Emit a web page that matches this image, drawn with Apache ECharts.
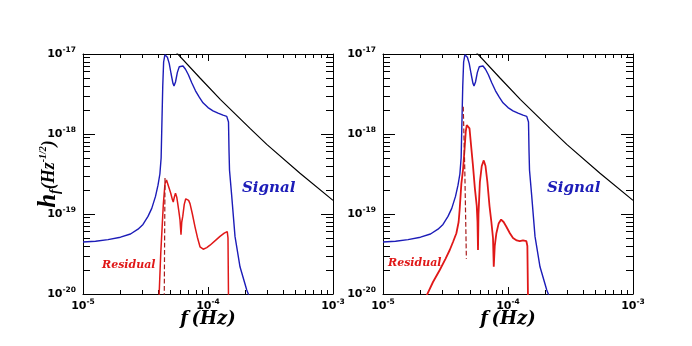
<!DOCTYPE html>
<html>
<head>
<meta charset="utf-8">
<script src="https://cdn.jsdelivr.net/npm/echarts@6/dist/echarts.min.js"></script>
<style>html,body{margin:0;padding:0;background:#fff}#echarts{width:692px;height:346px}</style>
</head>
<body>
<div id="echarts"></div>
<script>
// values, kept as log10(f / Hz) and log10(h)
var noiseLogF = [-4.26, -4.064, -3.90, -3.664, -3.53, -3.264, -3.0];
var noiseLogH = [-16.97, -17.30, -17.57, -17.93, -18.13, -18.49, -18.83];

var signalLogF = [-5.0, -4.9, -4.8, -4.7, -4.62, -4.56, -4.52, -4.48, -4.45, -4.42, -4.40, -4.385, -4.375, -4.37, -4.362, -4.355,
    -4.345, -4.335, -4.325, -4.31, -4.295, -4.28, -4.272, -4.26, -4.245, -4.23, -4.215, -4.2, -4.18, -4.157, -4.13, -4.1,
    -4.07, -4.04, -4.0, -3.96, -3.92, -3.88, -3.85, -3.84, -3.836, -3.832, -3.828, -3.81, -3.784, -3.744, -3.69, -3.665];
var signalLogH = [-19.35, -19.34, -19.32, -19.29, -19.25, -19.19, -19.13, -19.03, -18.93, -18.78, -18.64, -18.5, -18.3, -17.95, -17.4, -17.1,
    -17.01, -17.0, -17.04, -17.12, -17.25, -17.37, -17.4, -17.35, -17.23, -17.16, -17.14, -17.15, -17.19, -17.26, -17.36, -17.46,
    -17.54, -17.61, -17.67, -17.71, -17.74, -17.765, -17.78, -17.77, -17.85, -18.2, -18.45, -18.78, -19.28, -19.66, -19.95, -20.05];

// left panel residual
var resALogF = [-4.392, -4.378, -4.357, -4.344, -4.332, -4.32, -4.298, -4.285, -4.278, -4.268, -4.26, -4.25, -4.242, -4.232, -4.224, -4.216,
    -4.21, -4.202, -4.19, -4.178, -4.17, -4.155, -4.144, -4.125, -4.104, -4.085, -4.064, -4.038, -4.01, -3.984, -3.94, -3.904,
    -3.87, -3.846, -3.84, -3.836];
var resALogH = [-20.05, -19.49, -18.87, -18.62, -18.575, -18.6, -18.74, -18.82, -18.85, -18.78, -18.74, -18.79, -18.87, -18.98, -19.075, -19.26,
    -19.1, -19.03, -18.88, -18.81, -18.80, -18.83, -18.87, -19.0, -19.16, -19.29, -19.41, -19.44, -19.42, -19.39, -19.33, -19.28,
    -19.24, -19.22, -19.3, -20.05];
var dashALogF = [-4.35, -4.344];
var dashALogH = [-20.05, -18.55];

// right panel residual
var resBLogF = [-4.66, -4.6, -4.546, -4.5, -4.466, -4.44, -4.413, -4.395, -4.387, -4.373, -4.36, -4.348, -4.338, -4.33, -4.32, -4.308,
    -4.295, -4.28, -4.265, -4.25, -4.244, -4.24, -4.236, -4.225, -4.21, -4.194, -4.18, -4.165, -4.148, -4.133, -4.12, -4.114,
    -4.106, -4.093, -4.075, -4.055, -4.035, -4.013, -3.985, -3.96, -3.93, -3.906, -3.88, -3.853, -3.845, -3.84];
var resBLogH = [-20.05, -19.85, -19.7, -19.56, -19.45, -19.35, -19.24, -19.1, -18.95, -18.62, -18.45, -18.2, -17.97, -17.89, -17.87, -17.93,
    -18.15, -18.4, -18.68, -18.9, -19.1, -19.45, -19.0, -18.6, -18.4, -18.33, -18.4, -18.6, -18.9, -19.1, -19.3, -19.66,
    -19.4, -19.24, -19.12, -19.07, -19.1, -19.16, -19.24, -19.3, -19.33, -19.34, -19.33, -19.34, -19.4, -20.05];
var dashBLogF = [-4.358, -4.345, -4.333];
var dashBLogH = [-17.66, -18.5, -19.56];

var xMinorTicks = [2e-5, 3e-5, 4e-5, 5e-5, 6e-5, 7e-5, 8e-5, 9e-5, 2e-4, 3e-4, 4e-4, 5e-4, 6e-4, 7e-4, 8e-4, 9e-4];
var yMinorTicks = [2e-20, 3e-20, 4e-20, 5e-20, 6e-20, 7e-20, 8e-20, 9e-20, 2e-19, 3e-19, 4e-19, 5e-19, 6e-19, 7e-19, 8e-19, 9e-19,
    2e-18, 3e-18, 4e-18, 5e-18, 6e-18, 7e-18, 8e-18, 9e-18];

function pairs(lf, lh) {
    return lf.map(function (v, i) {
        return [Math.pow(10, v), Math.pow(10, lh[i])];
    });
}

var labelRich = {
    b: {fontFamily: 'DejaVu Sans', fontWeight: 'bold', fontSize: 11, color: '#000'},
    s: {fontFamily: 'DejaVu Sans', fontWeight: 'bold', fontSize: 7.5, color: '#000', padding: [0, 0, 8, 0]}
};
function powLabel(v) {
    var e = Math.round(Math.log10(v));
    return '{b|10}{s|' + e + '}';
}
var serif = 'DejaVu Serif';
var times = 'Liberation Serif';

function xAxes(grid, named) {
    var base = {type: 'log', logBase: 10, min: 1e-5, max: 1e-3, gridIndex: grid, splitLine: {show: false}};
    return [
        Object.assign({}, base, {
            position: 'bottom',
            axisLine: {lineStyle: {color: '#000', width: 1}},
            axisTick: {inside: true, length: 7, lineStyle: {color: '#000'}},
            axisLabel: {margin: 4, formatter: powLabel, rich: labelRich},
            name: named ? '{i|f} {i|(Hz)}' : '',
            nameLocation: 'middle',
            nameGap: 16,
            nameMoveOverlap: false,
            nameTextStyle: {rich: {i: {fontFamily: serif, fontStyle: 'italic', fontWeight: 'bold', fontSize: 18, color: '#000'}}}
        }),
        Object.assign({}, base, {
            position: 'bottom', axisLine: {show: false},
            axisTick: {inside: true, length: 4, customValues: xMinorTicks, lineStyle: {color: '#000'}},
            axisLabel: {show: false}
        }),
        Object.assign({}, base, {
            position: 'top', axisLine: {lineStyle: {color: '#000', width: 1}},
            axisTick: {inside: true, length: 7, lineStyle: {color: '#000'}},
            axisLabel: {show: false}
        }),
        Object.assign({}, base, {
            position: 'top', axisLine: {show: false},
            axisTick: {inside: true, length: 4, customValues: xMinorTicks, lineStyle: {color: '#000'}},
            axisLabel: {show: false}
        })
    ];
}

function yAxes(grid, named) {
    var base = {type: 'log', logBase: 10, min: 1e-20, max: 1e-17, gridIndex: grid, splitLine: {show: false}};
    return [
        Object.assign({}, base, {
            position: 'left',
            axisLine: {lineStyle: {color: '#000', width: 1}},
            axisTick: {inside: true, length: 12, lineStyle: {color: '#000'}},
            axisLabel: {margin: 7, formatter: powLabel, rich: labelRich},
            name: named ? '{h|h}{f|f}{p|(Hz}{s|-1/2}{p|)}' : '',
            nameLocation: 'middle',
            nameRotate: 90,
            nameGap: 21,
            nameMoveOverlap: false,
            nameTextStyle: {rich: {
                h: {fontFamily: times, fontStyle: 'italic', fontWeight: 'bold', fontSize: 25, color: '#000'},
                f: {fontFamily: times, fontStyle: 'italic', fontWeight: 'bold', fontSize: 14, color: '#000', padding: [12, 0, 0, 0]},
                p: {fontFamily: times, fontStyle: 'italic', fontWeight: 'bold', fontSize: 18, color: '#000'},
                s: {fontFamily: times, fontStyle: 'italic', fontWeight: 'bold', fontSize: 10, color: '#000', padding: [0, 0, 12, 0]}
            }}
        }),
        Object.assign({}, base, {
            position: 'left', axisLine: {show: false},
            axisTick: {inside: true, length: 7, customValues: yMinorTicks, lineStyle: {color: '#000'}},
            axisLabel: {show: false}
        }),
        Object.assign({}, base, {
            position: 'right', axisLine: {lineStyle: {color: '#000', width: 1}},
            axisTick: {inside: true, length: 12, lineStyle: {color: '#000'}},
            axisLabel: {show: false}
        }),
        Object.assign({}, base, {
            position: 'right', axisLine: {show: false},
            axisTick: {inside: true, length: 7, customValues: yMinorTicks, lineStyle: {color: '#000'}},
            axisLabel: {show: false}
        })
    ];
}

function curve(grid, data, color, width, dashed) {
    return {
        type: 'line',
        xAxisIndex: grid * 4,
        yAxisIndex: grid * 4,
        data: data,
        showSymbol: false,
        clip: true,
        animation: false,
        lineStyle: {color: color, width: width, type: dashed ? 'dashed' : 'solid'}
    };
}

var black = '#000000', blue = '#1c1cb8', red = '#e01818', darkRed = '#a81c1c';

var myChart = echarts.init(document.getElementById('echarts'));
var option = {
    animation: false,
    grid: [
        {left: 83, top: 54, width: 250, height: 240},
        {left: 383, top: 54, width: 250, height: 240}
    ],
    xAxis: xAxes(0, true).concat(xAxes(1, true)),
    yAxis: yAxes(0, true).concat(yAxes(1, false)),
    series: [
        curve(0, pairs(noiseLogF, noiseLogH), black, 1.2),
        curve(0, pairs(signalLogF, signalLogH), blue, 1.4),
        curve(0, pairs(resALogF, resALogH), red, 1.5),
        curve(0, pairs(dashALogF, dashALogH), darkRed, 1.2, true),
        curve(1, pairs(noiseLogF, noiseLogH), black, 1.2),
        curve(1, pairs(signalLogF, signalLogH), blue, 1.4),
        curve(1, pairs(resBLogF, resBLogH), red, 1.8),
        curve(1, pairs(dashBLogF, dashBLogH), darkRed, 1.2, true)
    ],
    graphic: [
        {type: 'text', left: 242, top: 181, style: {text: 'Signal', font: 'italic bold 15px "DejaVu Serif"', fill: blue}},
        {type: 'text', left: 547, top: 181, style: {text: 'Signal', font: 'italic bold 15px "DejaVu Serif"', fill: blue}},
        {type: 'text', left: 102, top: 260, style: {text: 'Residual', font: 'italic bold 11px "DejaVu Serif"', fill: red}},
        {type: 'text', left: 388, top: 258, style: {text: 'Residual', font: 'italic bold 11px "DejaVu Serif"', fill: red}}
    ]
};
myChart.setOption(option);
</script>
</body>
</html>
